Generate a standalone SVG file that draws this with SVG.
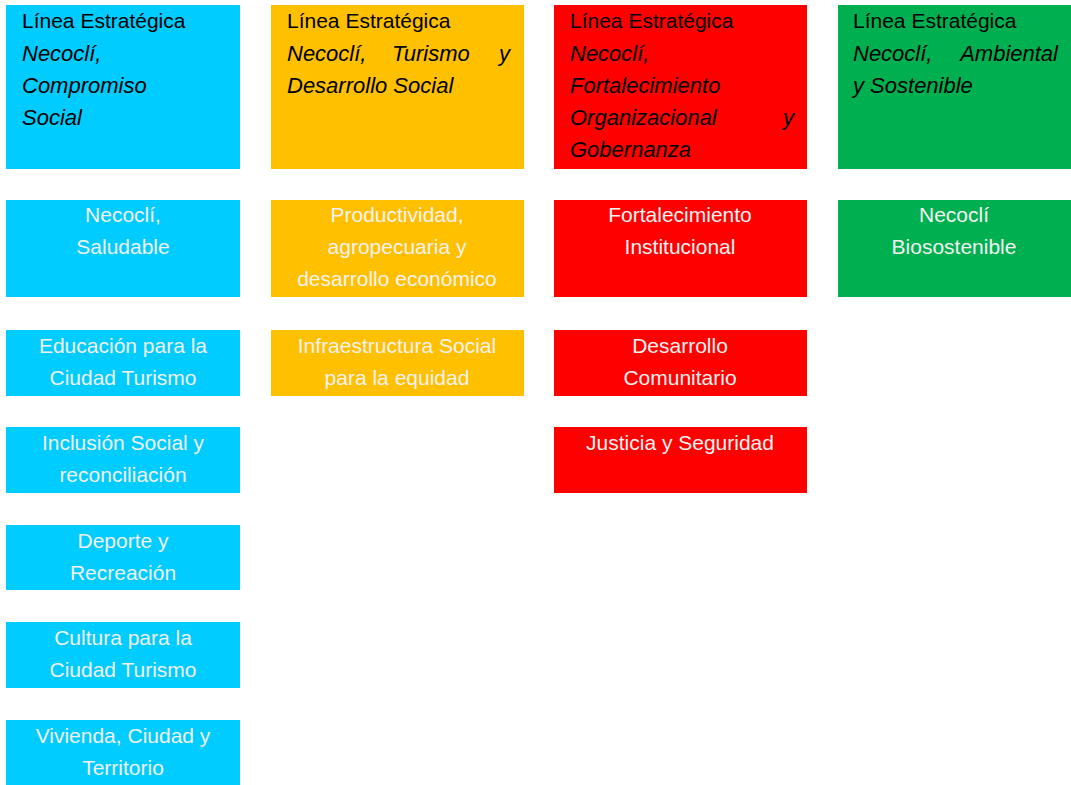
<svg xmlns="http://www.w3.org/2000/svg" width="1071" height="785" viewBox="0 0 1071 785">
<style>
.blue{fill:#00CCFF}.orange{fill:#FFC000}.red{fill:#FF0000}.green{fill:#00B050}
.h{font-family:"Liberation Sans",Arial,sans-serif;font-size:21px;fill:#000}
.i{font-family:"Liberation Sans",Arial,sans-serif;font-size:22px;font-style:italic;fill:#000}
.s{font-family:"Liberation Sans",Arial,sans-serif;font-size:21px;fill:#F2F2F2;text-anchor:middle}
</style>
<rect width="1071" height="785" fill="#fff"/>
<g id="h1"><rect class="blue" x="6" y="5" width="234" height="164"/>
<text class="h" x="22" y="28">Línea Estratégica</text>
<text class="i" x="22" y="61">Necoclí,</text><text class="i" x="22" y="93">Compromiso</text><text class="i" x="22" y="125">Social</text></g>
<g id="h2"><rect class="orange" x="271" y="5" width="253" height="164"/>
<text class="h" x="287" y="28">Línea Estratégica</text>
<text class="i" x="287" y="61">Necoclí,</text><text class="i" x="392" y="61">Turismo</text><text class="i" x="510" y="61" text-anchor="end">y</text>
<text class="i" x="287" y="93">Desarrollo Social</text></g>
<g id="h3"><rect class="red" x="554" y="5" width="253" height="164"/>
<text class="h" x="570" y="28">Línea Estratégica</text>
<text class="i" x="570" y="61">Necoclí,</text><text class="i" x="570" y="93">Fortalecimiento</text>
<text class="i" x="570" y="125">Organizacional</text><text class="i" x="794" y="125" text-anchor="end">y</text>
<text class="i" x="570" y="157">Gobernanza</text></g>
<g id="h4"><rect class="green" x="838" y="5" width="233" height="164"/>
<text class="h" x="853" y="28">Línea Estratégica</text>
<text class="i" x="853" y="61">Necoclí,</text><text class="i" x="1058" y="61" text-anchor="end">Ambiental</text>
<text class="i" x="853" y="93">y Sostenible</text></g>
<g id="b1"><rect class="blue" x="6" y="200" width="234" height="97"/><text class="s" x="123" y="222">Necoclí,</text><text class="s" x="123" y="254">Saludable</text></g>
<g id="b2"><rect class="blue" x="6" y="330" width="234" height="66"/><text class="s" x="123" y="353">Educación para la</text><text class="s" x="123" y="385">Ciudad Turismo</text></g>
<g id="b3"><rect class="blue" x="6" y="427" width="234" height="66"/><text class="s" x="123" y="450">Inclusión Social y</text><text class="s" x="123" y="482">reconciliación</text></g>
<g id="b4"><rect class="blue" x="6" y="525" width="234" height="65"/><text class="s" x="123" y="548">Deporte y</text><text class="s" x="123" y="580">Recreación</text></g>
<g id="b5"><rect class="blue" x="6" y="622" width="234" height="66"/><text class="s" x="123" y="645">Cultura para la</text><text class="s" x="123" y="677">Ciudad Turismo</text></g>
<g id="b6"><rect class="blue" x="6" y="720" width="234" height="65"/><text class="s" x="123" y="743">Vivienda, Ciudad y</text><text class="s" x="123" y="775">Territorio</text></g>
<g id="o1"><rect class="orange" x="271" y="200" width="253" height="97"/><text class="s" x="397" y="222">Productividad,</text><text class="s" x="397" y="254">agropecuaria y</text><text class="s" x="397" y="286">desarrollo económico</text></g>
<g id="o2"><rect class="orange" x="271" y="330" width="253" height="66"/><text class="s" x="397" y="353">Infraestructura Social</text><text class="s" x="397" y="385">para la equidad</text></g>
<g id="r1"><rect class="red" x="554" y="200" width="253" height="97"/><text class="s" x="680" y="222">Fortalecimiento</text><text class="s" x="680" y="254">Institucional</text></g>
<g id="r2"><rect class="red" x="554" y="330" width="253" height="66"/><text class="s" x="680" y="353">Desarrollo</text><text class="s" x="680" y="385">Comunitario</text></g>
<g id="r3"><rect class="red" x="554" y="427" width="253" height="66"/><text class="s" x="680" y="450">Justicia y Seguridad</text></g>
<g id="g1"><rect class="green" x="838" y="200" width="233" height="97"/><text class="s" x="954" y="222">Necoclí</text><text class="s" x="954" y="254">Biosostenible</text></g>
<g id="connectors"/>
</svg>
